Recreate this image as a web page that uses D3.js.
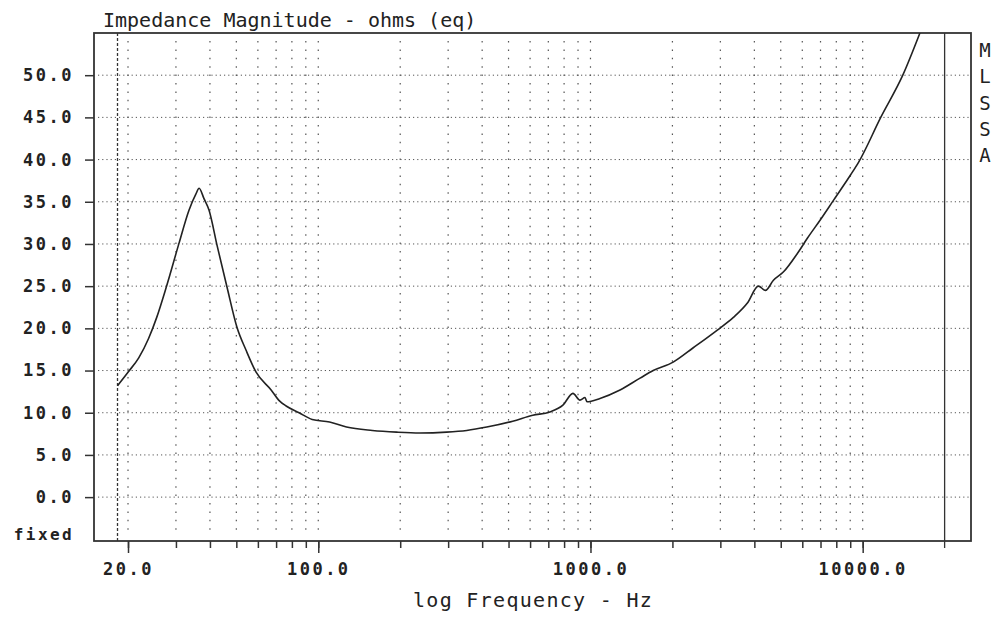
<!DOCTYPE html>
<html>
<head>
<meta charset="utf-8">
<script src="https://cdn.jsdelivr.net/npm/d3@7"></script>
<style>
  body { margin: 0; background: #fff; }
  text { font-family: "DejaVu Sans Mono", "Liberation Mono", monospace; fill: #222; }
</style>
</head>
<body>
<div id="chart"></div>
<script>
// 読み取ったデータ (Hz, ohms)
var freqs = [18.3, 20.0, 21.9, 23.8, 25.5, 27.6, 30.8, 33.5, 35.5, 36.5, 38.0, 39.7, 42.5, 46.2, 50.3, 54.3, 59.1, 67.1, 72, 76.2,
             85, 95, 110, 127, 158, 194, 236, 296, 351, 416, 518, 614, 709, 792, 862, 915, 955, 971, 1084, 1284, 1521, 1700,
             2013, 2385, 2924, 3350, 3771, 4140, 4393, 4700, 5120, 5763, 6270, 7003, 7820, 9034, 9666, 11650, 14040, 16230];
var ohms  = [13.2, 14.8, 16.5, 18.8, 21.3, 24.8, 30.1, 34.0, 35.9, 36.6, 35.4, 34.0, 29.8, 24.9, 20.1, 17.4, 14.8, 12.7, 11.4, 10.8,
             10.0, 9.2, 8.9, 8.3, 7.9, 7.7, 7.6, 7.7, 7.9, 8.3, 9.0, 9.7, 10.1, 10.9, 12.3, 11.5, 11.8, 11.3, 11.7, 12.7, 14.1, 15.0,
             16.0, 17.7, 19.8, 21.3, 23.0, 25.0, 24.5, 25.7, 26.7, 28.9, 30.7, 32.9, 35.2, 38.2, 39.7, 45.0, 50.0, 55.0];

var yTicks = [0, 5, 10, 15, 20, 25, 30, 35, 40, 45, 50];
var xGrid = [20, 30, 40, 50, 60, 70, 80, 90, 100, 200, 300, 400, 500, 600, 700, 800, 900,
             1000, 2000, 3000, 4000, 5000, 6000, 7000, 8000, 9000, 10000];
var xMajor = [20, 100, 1000, 10000];
var upperLimit = 20000;
var lowerMarker = 18.3;
var sideLetters = ["M", "L", "S", "S", "A"];

var W = 998, H = 621;
var margin = {left: 94, right: 971, top: 33, bottom: 541};

var svg = d3.select("#chart").append("svg")
    .attr("width", W)
    .attr("height", H);

var x = d3.scaleLog().domain([15, 25000]).range([margin.left, margin.right]);
var y = d3.scaleLinear().domain([-5.2, 55]).range([margin.bottom, margin.top]);

// グリッド (横)
svg.append("g")
    .selectAll("line")
    .data(yTicks)
    .enter().append("line")
    .attr("x1", margin.left + 4).attr("x2", margin.right - 2)
    .attr("y1", function(d) { return y(d); })
    .attr("y2", function(d) { return y(d); })
    .attr("stroke", "#555")
    .attr("stroke-width", 1)
    .attr("stroke-dasharray", "1.2,3");

// グリッド (縦)
svg.append("g")
    .selectAll("line")
    .data(xGrid)
    .enter().append("line")
    .attr("x1", function(d) { return x(d); })
    .attr("x2", function(d) { return x(d); })
    .attr("y1", margin.top + 8).attr("y2", margin.bottom - 6)
    .attr("stroke", "#555")
    .attr("stroke-width", 1.2)
    .attr("stroke-dasharray", "1.5,6.9");

// 下限マーカー (破線)
svg.append("line")
    .attr("x1", x(lowerMarker)).attr("x2", x(lowerMarker))
    .attr("y1", margin.top).attr("y2", margin.bottom)
    .attr("stroke", "#333")
    .attr("stroke-width", 1.3)
    .attr("stroke-dasharray", "3,2");

// 上限ライン
svg.append("line")
    .attr("x1", x(upperLimit)).attr("x2", x(upperLimit))
    .attr("y1", margin.top).attr("y2", margin.bottom + 7)
    .attr("stroke", "#333")
    .attr("stroke-width", 1.3);

// 枠
svg.append("rect")
    .attr("x", margin.left).attr("y", margin.top)
    .attr("width", margin.right - margin.left).attr("height", margin.bottom - margin.top)
    .attr("fill", "none")
    .attr("stroke", "#333")
    .attr("stroke-width", 1.8);

// 曲線
svg.append("defs").append("clipPath").attr("id", "clip")
    .append("rect").attr("x", margin.left).attr("y", margin.top)
    .attr("width", margin.right - margin.left).attr("height", margin.bottom - margin.top);

var line = d3.line()
    .x(function(d, i) { return x(freqs[i]); })
    .y(function(d) { return y(d); })
    .curve(d3.curveMonotoneX);

svg.append("path")
    .datum(ohms)
    .attr("clip-path", "url(#clip)")
    .attr("fill", "none")
    .attr("stroke", "#222")
    .attr("stroke-width", 1.6)
    .attr("d", line);

// Y軸
var yAxis = svg.append("g")
    .attr("transform", "translate(" + margin.left + ",0)")
    .call(d3.axisLeft(y).tickValues(yTicks).tickFormat(d3.format(".1f")).tickSize(9).tickPadding(11));
yAxis.select(".domain").remove();
yAxis.selectAll("line").attr("stroke", "#333").attr("stroke-width", 1.5);
yAxis.selectAll("text")
    .attr("font-family", "DejaVu Sans Mono")
    .attr("font-size", 17)
    .attr("font-weight", "bold")
    .attr("letter-spacing", 2.5)
    .attr("fill", "#222");

svg.append("text")
    .attr("x", 74).attr("y", 540)
    .attr("text-anchor", "end")
    .attr("font-size", 16)
    .attr("font-weight", "bold")
    .attr("letter-spacing", 2.4)
    .text("fixed");

// X軸 (細かい目盛り)
var xMinor = svg.append("g")
    .attr("transform", "translate(0," + margin.bottom + ")")
    .call(d3.axisBottom(x).tickValues(xGrid).tickFormat("").tickSize(7));
xMinor.select(".domain").remove();
xMinor.selectAll("line").attr("stroke", "#333").attr("stroke-width", 1.5);

// X軸 (主目盛り)
var xAxis = svg.append("g")
    .attr("transform", "translate(0," + margin.bottom + ")")
    .call(d3.axisBottom(x).tickValues(xMajor).tickFormat(d3.format(".1f")).tickSize(12).tickPadding(10));
xAxis.select(".domain").remove();
xAxis.selectAll("line").attr("stroke", "#333").attr("stroke-width", 1.5);
xAxis.selectAll("text")
    .attr("font-family", "DejaVu Sans Mono")
    .attr("font-size", 17)
    .attr("font-weight", "bold")
    .attr("letter-spacing", 2.5)
    .attr("fill", "#222");

// タイトル
svg.append("text")
    .attr("x", 103).attr("y", 27)
    .attr("font-size", 20)
    .text("Impedance Magnitude - ohms (eq)");

svg.append("text")
    .attr("x", 413).attr("y", 607)
    .attr("font-size", 20)
    .attr("letter-spacing", 1.3)
    .text("log Frequency - Hz");

// 右側の文字
svg.append("g")
    .selectAll("text")
    .data(sideLetters)
    .enter().append("text")
    .attr("x", 985)
    .attr("y", function(d, i) { return 57 + i * 26.3; })
    .attr("text-anchor", "middle")
    .attr("font-size", 19)
    .text(function(d) { return d; });
</script>
</body>
</html>
